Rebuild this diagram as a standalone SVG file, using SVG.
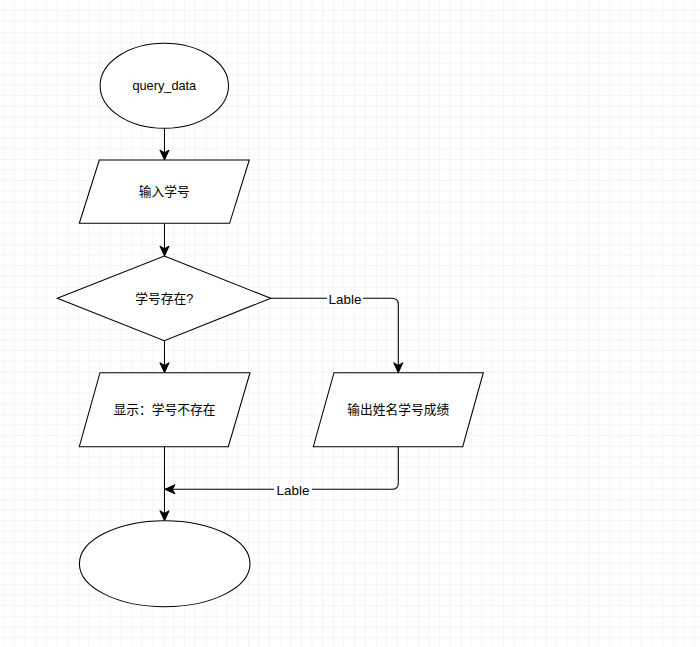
<svg xmlns="http://www.w3.org/2000/svg" width="700" height="647" viewBox="0 0 700 647">
  <defs>
    <pattern id="grid" x="35.7" y="31.7" width="42.5" height="42.5" patternUnits="userSpaceOnUse">
      <path d="M10.625 0V42.5M21.25 0V42.5M31.875 0V42.5M0 10.625H42.5M0 21.25H42.5M0 31.875H42.5" stroke="#f4f4f4" stroke-width="1" fill="none"/>
      <path d="M0 0V42.5M0 0H42.5" stroke="#e8e8e8" stroke-width="1" fill="none"/>
    </pattern>
    <marker id="arrow" markerUnits="userSpaceOnUse" markerWidth="12" markerHeight="12" viewBox="-11 -6 12 12" refX="0" refY="0" orient="auto">
      <path d="M0 0L-10 -4.6L-7.3 0L-10 4.6Z" fill="#000" stroke="#000" stroke-width="1"/>
    </marker>
    <style>
      .shape { fill: #fff; stroke: #000; stroke-width: 1.06; }
      .edge { fill: none; stroke: #000; stroke-width: 1.06; marker-end: url(#arrow); }
      .t { font-family: "Liberation Sans", Arial, "Noto Sans CJK SC", sans-serif; font-size: 12.75px; fill: #000; text-anchor: middle; }
      .lt { font-family: "Liberation Sans", Arial, sans-serif; font-size: 13.4px; fill: #000; text-anchor: middle; }
      .lbg { fill: #fff; }
    </style>
  </defs>
  <rect x="0" y="0" width="700" height="647" fill="#fff"/>
  <rect x="0" y="0" width="700" height="647" fill="url(#grid)"/>

  <g id="connectors">
    <path class="edge" d="M164.5 128.3V160"/>
    <path class="edge" d="M164.5 223.3V256"/>
    <path class="edge" d="M164.5 340.7V372.7"/>
    <path class="edge" d="M270.7 298.3H392Q398.3 298.3 398.3 304.6V372.7"/>
    <path class="edge" d="M398.3 446.7V483Q398.3 489.3 392 489.3H165"/>
    <path class="edge" d="M164.5 446.7V520.7"/>
    <g id="label1">
      <rect class="lbg" x="327" y="291" width="36" height="15"/>
      <text class="lt" x="345" y="303.5">Lable</text>
    </g>
    <g id="label2">
      <rect class="lbg" x="274" y="482" width="38" height="15"/>
      <text class="lt" x="293" y="494.8">Lable</text>
    </g>
  </g>

  <g id="start">
    <ellipse class="shape" cx="164.3" cy="85.8" rx="64.2" ry="42.5"/>
    <text class="t" x="164.3" y="90.3">query_data</text>
  </g>
  <g id="input">
    <polygon class="shape" points="99.3,160 249.3,160 229.6,223.3 79.3,223.3"/>
    <text class="t" x="164.3" y="196.2">输入学号</text>
  </g>
  <g id="decision">
    <polygon class="shape" points="164.3,256 270.7,298.3 164.3,340.7 57.3,298.3"/>
    <text class="t" x="164.3" y="302.8">学号存在?</text>
  </g>
  <g id="notfound">
    <polygon class="shape" points="100,372.7 250,372.7 228.3,446.7 79.3,446.7"/>
    <text class="t" x="164.5" y="414">显示：学号不存在</text>
  </g>
  <g id="output">
    <polygon class="shape" points="334,372.7 483.3,372.7 462.7,446.7 313.3,446.7"/>
    <text class="t" x="398.3" y="414">输出姓名学号成绩</text>
  </g>
  <g id="end">
    <ellipse class="shape" cx="164.7" cy="563.7" rx="85.3" ry="43"/>
  </g>
</svg>
